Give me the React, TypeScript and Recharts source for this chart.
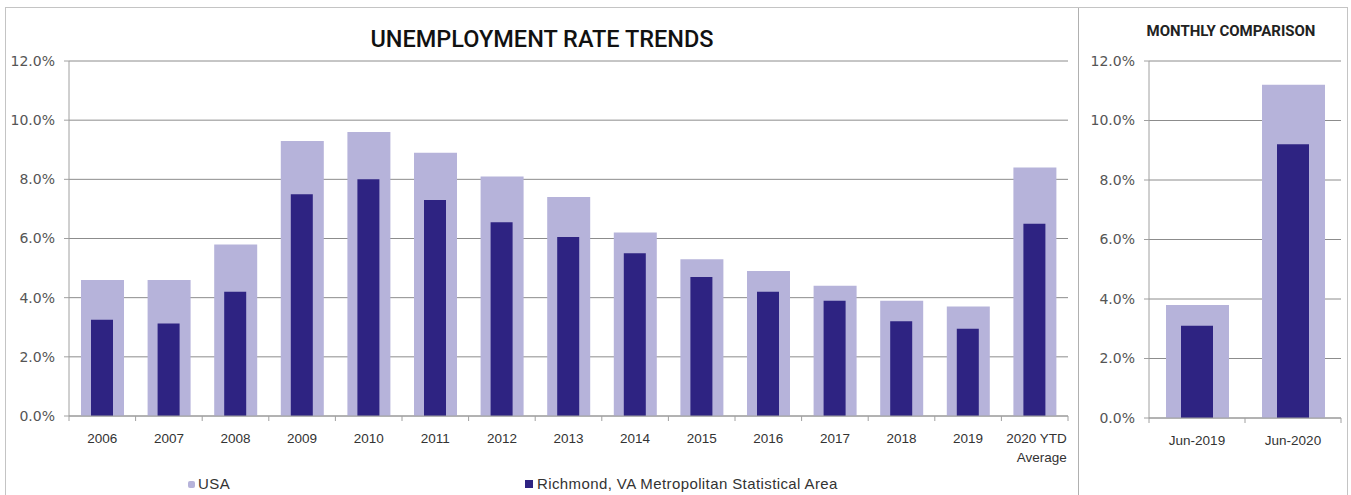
import React from 'react';
import { BarChart, Bar, XAxis, YAxis, CartesianGrid } from 'recharts';

const years = ['2006', '2007', '2008', '2009', '2010', '2011', '2012', '2013', '2014', '2015', '2016', '2017', '2018', '2019', '2020 YTD\nAverage'];
const usaRate = [4.6, 4.6, 5.8, 9.3, 9.6, 8.9, 8.1, 7.4, 6.2, 5.3, 4.9, 4.4, 3.9, 3.7, 8.4];
const richmondRate = [3.25, 3.13, 4.2, 7.5, 8.0, 7.3, 6.55, 6.05, 5.5, 4.7, 4.2, 3.9, 3.2, 2.95, 6.5];

const months = ['Jun-2019', 'Jun-2020'];
const usaMonthly = [3.8, 11.2];
const richmondMonthly = [3.1, 9.2];

const yTicks = [0, 2, 4, 6, 8, 10, 12];

const USA_COLOR = '#b6b3da';
const RICH_COLOR = '#2e2382';
const GRID = '#8c8c8c';
const AXIS = '#a0a0a0';
const LABEL_FONT = '"Liberation Sans", Arial, sans-serif';
const NUM_FONT = '"DejaVu Sans", Verdana, sans-serif';

const trendData = years.map((y, i) => ({ year: y, usa: usaRate[i], richmond: richmondRate[i] }));
const monthData = months.map((m, i) => ({ month: m, usa: usaMonthly[i], richmond: richmondMonthly[i] }));

const fmt = (v: number) => `${v.toFixed(1)}%`;

// left plot: 1072 wide, yaxis 63, right margin 10
const LEFT_BAND = (1072 - 63 - 10) / years.length;
const RIGHT_BAND = (267 - 70 - 5) / months.length;

function makeTick(band: number, count: number) {
  return (props: any) => {
    const { x, y, payload, index } = props;
    const lines = String(payload.value).split('\n');
    return (
      <g>
        <line x1={x - band / 2} x2={x - band / 2} y1={y} y2={y + 5} stroke={AXIS} />
        {index === count - 1 && <line x1={x + band / 2} x2={x + band / 2} y1={y} y2={y + 5} stroke={AXIS} />}
        {lines.map((l, i) => (
          <text key={i} x={lines.length > 1 ? x + 32 : x} y={y + 27 + i * 19} textAnchor={lines.length > 1 ? 'end' : 'middle'}
            fontSize={13.5} fontFamily={LABEL_FONT} fill="#333">
            {l}
          </text>
        ))}
      </g>
    );
  };
}

export default function App() {
  return (
    <div style={{ position: 'absolute', left: 5, top: 7, width: 1341, height: 487, border: '1px solid #c4c4c4', borderBottom: 'none', background: '#fff' }}>
      <div style={{ position: 'absolute', left: 0, top: 0 }}>
        <BarChart width={1072} height={487} data={trendData} margin={{ top: 53, right: 10, left: 0, bottom: 49 }}>
          <text x={536} y={39} textAnchor="middle" fontSize={23.5} fontWeight={500} fontFamily="Roboto, sans-serif" fill="#111">
            UNEMPLOYMENT RATE TRENDS
          </text>
          <CartesianGrid xAxisId="u" vertical={false} stroke={GRID} />
          <XAxis xAxisId="u" dataKey="year" interval={0} tickLine={false} tickSize={0} tickMargin={0} height={30} stroke={AXIS}
            tick={makeTick(LEFT_BAND, years.length)} />
          <XAxis xAxisId="r" dataKey="year" hide height={0} />
          <YAxis xAxisId="u" domain={[0, 12]} ticks={yTicks} tickFormatter={fmt} width={63} stroke={AXIS} tickSize={5} tickMargin={9}
            tick={{ fontSize: 14, fontFamily: NUM_FONT, fill: '#555' }} />
          <Bar xAxisId="u" dataKey="usa" name="USA" barSize={43} fill={USA_COLOR} isAnimationActive={false} />
          <Bar xAxisId="r" dataKey="richmond" name="Richmond, VA Metropolitan Statistical Area" barSize={22} fill={RICH_COLOR} isAnimationActive={false} />
        </BarChart>
        <div style={{ position: 'absolute', left: 0, top: 467, width: 1072, height: 20, fontFamily: LABEL_FONT, fontSize: 15, letterSpacing: 0.4, color: '#333' }}>
          <span style={{ position: 'absolute', left: 182, top: 6, width: 7, height: 7, borderRadius: 2, background: USA_COLOR }} />
          <span style={{ position: 'absolute', left: 192, top: 0 }}>USA</span>
          <span style={{ position: 'absolute', left: 519, top: 5, width: 8, height: 8, background: RICH_COLOR }} />
          <span style={{ position: 'absolute', left: 531, top: 0 }}>Richmond, VA Metropolitan Statistical Area</span>
        </div>
      </div>
      <div style={{ position: 'absolute', left: 1072, top: 0, width: 1, height: 487, background: '#b0b0b0' }} />
      <div style={{ position: 'absolute', left: 1073, top: 0 }}>
        <BarChart width={267} height={487} data={monthData} margin={{ top: 53, right: 5, left: 0, bottom: 47 }}>
          <text x={152} y={28} textAnchor="middle" fontSize={15} fontWeight={700} fontFamily="Roboto, sans-serif" fill="#222">
            MONTHLY COMPARISON
          </text>
          <CartesianGrid xAxisId="u" vertical={false} stroke={GRID} />
          <XAxis xAxisId="u" dataKey="month" interval={0} tickLine={false} tickSize={0} tickMargin={0} height={30} stroke={AXIS}
            tick={makeTick(RIGHT_BAND, months.length)} />
          <XAxis xAxisId="r" dataKey="month" hide height={0} />
          <YAxis xAxisId="u" domain={[0, 12]} ticks={yTicks} tickFormatter={fmt} width={70} stroke={AXIS} tickSize={5} tickMargin={9}
            tick={{ fontSize: 14, fontFamily: NUM_FONT, fill: '#555' }} />
          <Bar xAxisId="u" dataKey="usa" barSize={63} fill={USA_COLOR} isAnimationActive={false} />
          <Bar xAxisId="r" dataKey="richmond" barSize={32} fill={RICH_COLOR} isAnimationActive={false} />
        </BarChart>
      </div>
    </div>
  );
}
